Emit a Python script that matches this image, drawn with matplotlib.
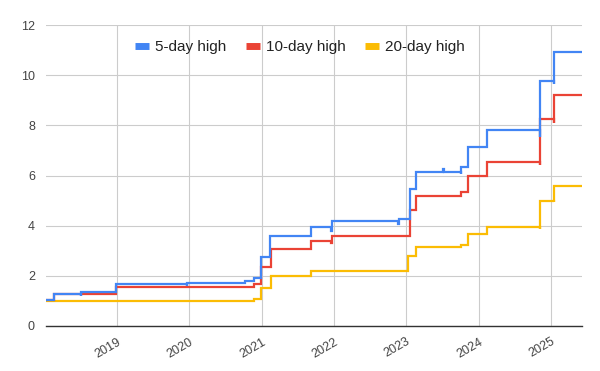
import matplotlib
matplotlib.use("Agg")
import matplotlib.pyplot as plt
import matplotlib.transforms as mtransforms
import pandas as pd
from matplotlib.lines import Line2D

plt.rcParams['font.family'] = ['Liberation Sans', 'DejaVu Sans']

# 5-day high: change points (date, value)
blue_dates = ["2018-01-07", "2018-02-17", "2018-07-01", "2018-07-03", "2018-12-27",
              "2019-12-18", "2019-12-20", "2020-10-08", "2020-11-22", "2020-12-30",
              "2021-02-12", "2021-09-06", "2021-12-18", "2021-12-20", "2022-11-22",
              "2022-11-24", "2023-01-18", "2023-02-20", "2023-07-05", "2023-07-08",
              "2023-10-03", "2023-10-05", "2023-11-10", "2024-02-14", "2024-11-05",
              "2024-11-07", "2025-01-14", "2025-01-16", "2025-06-06"]
blue_vals = [1.02, 1.28, 1.20, 1.35, 1.68,
             1.60, 1.70, 1.80, 1.93, 2.75,
             3.57, 3.93, 3.80, 4.19, 4.05,
             4.27, 5.47, 6.15, 6.25, 6.15,
             6.05, 6.32, 7.12, 7.80, 7.55,
             9.78, 9.65, 10.93, 10.93]

# 10-day high
red_dates = ["2018-01-07", "2018-02-17", "2018-12-27", "2020-11-22", "2020-12-30",
             "2021-02-14", "2021-09-06", "2021-12-18", "2021-12-20", "2023-01-18",
             "2023-02-20", "2023-10-05", "2023-11-10", "2024-02-14", "2024-11-05",
             "2024-11-07", "2025-01-14", "2025-01-16", "2025-06-06"]
red_vals = [1.02, 1.28, 1.57, 1.66, 2.35,
            3.08, 3.37, 3.30, 3.60, 4.63,
            5.19, 5.33, 6.00, 6.55, 6.40,
            8.25, 8.10, 9.22, 9.22]

# 20-day high
yellow_dates = ["2018-01-07", "2020-11-22", "2020-12-30", "2021-02-14", "2021-09-06",
                "2023-01-08", "2023-02-20", "2023-10-05", "2023-11-10", "2024-02-14",
                "2024-11-05", "2024-11-07", "2025-01-14", "2025-01-16", "2025-06-06"]
yellow_vals = [1.00, 1.08, 1.52, 2.00, 2.19,
               2.79, 3.14, 3.23, 3.66, 3.96,
               3.85, 4.99, 4.93, 5.59, 5.59]

year_labels = ["2019", "2020", "2021", "2022", "2023", "2024", "2025"]

series = [
    ("5-day high", blue_dates, blue_vals, "#4285F4"),
    ("10-day high", red_dates, red_vals, "#EA4335"),
    ("20-day high", yellow_dates, yellow_vals, "#FBBC04"),
]

fig = plt.figure(figsize=(6, 3.71), dpi=100)
ax = fig.add_axes([46/600, 1-326/371, (582-46)/600, (326-25)/371])

for name, d, v, c in series[::-1]:
    ax.plot(pd.to_datetime(d), v, drawstyle='steps-post', color=c, lw=1.6,
            solid_joinstyle='miter')

ax.set_ylim(0, 12)
ax.set_yticks(range(0, 13, 2))
ax.set_xlim(pd.Timestamp("2018-01-07"), pd.Timestamp("2025-06-06"))
ax.set_xticks([pd.Timestamp(f"{y}-01-01") for y in year_labels])
ax.set_xticklabels(year_labels, rotation=30, ha='right', rotation_mode='anchor')
offset = mtransforms.ScaledTranslation(6/100, 0, fig.dpi_scale_trans)
for lbl in ax.get_xticklabels():
    lbl.set_transform(lbl.get_transform() + offset)
ax.grid(True, color='#cccccc', lw=0.8)
ax.set_axisbelow(True)
for s in ['top', 'right', 'left']:
    ax.spines[s].set_visible(False)
ax.spines['bottom'].set_color('#333333')
ax.spines['bottom'].set_linewidth(1.0)
ax.tick_params(axis='both', length=0, labelsize=9, labelcolor='#444444')
ax.tick_params(axis='y', pad=8)
ax.tick_params(axis='x', pad=7)

leg_handles = [Line2D([0], [0], color=c, lw=5, solid_capstyle='butt') for _, _, _, c in series]
leg_labels = [n for n, _, _, _ in series]
fig.legend(leg_handles, leg_labels, loc='center', bbox_to_anchor=(0.5, 1-47/371),
           ncol=3, frameon=False, fontsize=11, handlelength=0.9, handletextpad=0.4,
           columnspacing=1.3, labelcolor='#222222')

fig.savefig("out.png", dpi=100)
